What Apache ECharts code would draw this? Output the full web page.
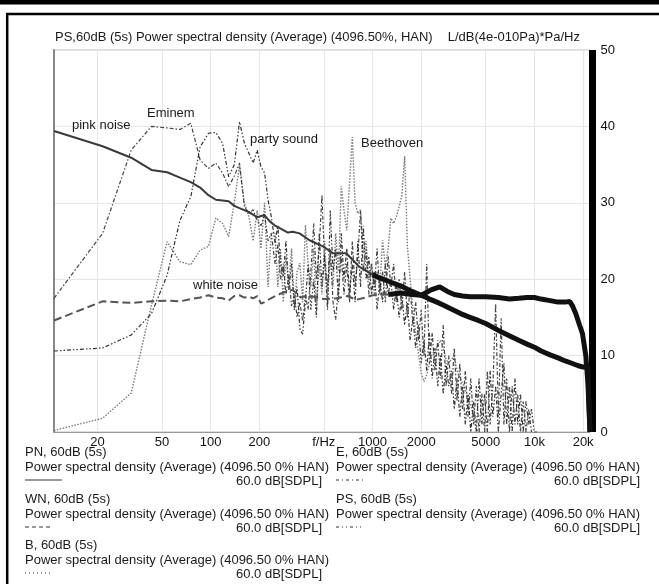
<!DOCTYPE html>
<html><head><meta charset="utf-8">
<script src="https://cdn.jsdelivr.net/npm/echarts@6/dist/echarts.min.js"></script>
<style>html,body{margin:0;padding:0;background:#fff}#c{width:659px;height:584px}</style>
</head><body><div id="c"></div>
<script>
// ---------- axis ticks ----------
const xTickValues = [20, 50, 100, 200, 500, 1000, 2000, 5000, 10000, 20000];
const xTickLabels = ['20', '50', '100', '200', 'f/Hz', '1000', '2000', '5000', '10k', '20k'];
const yTickLabels = ['0', '10', '20', '30', '40', '50'];

// ---------- frequencies ----------
const binFreq = [10.77, 21.5, 32.3, 43.1, 53.8, 64.6, 75.4, 86.1, 96.9, 107.7, 118.4, 129.2, 140, 150.7, 161.5, 172.3, 183, 193.8, 204.6, 215.4, 226.2, 236.9];
const fineFreq = [250, 260, 270, 281, 292, 304, 316, 329, 342, 356, 370, 385, 400, 416, 433, 450, 468, 487, 506, 527, 548, 570, 592, 616, 641, 666, 693, 721, 750, 780, 811, 843, 877, 912, 948, 986, 1026, 1067, 1109, 1154, 1200, 1248, 1298, 1350, 1404, 1460, 1518, 1579, 1642, 1708, 1776, 1847, 1921, 1998, 2078, 2161, 2247, 2337, 2431, 2528, 2629, 2734, 2844, 2957, 3076, 3199, 3327, 3460, 3598, 3742, 3892, 4047, 4209, 4378, 4553, 4735, 4924, 5121, 5326, 5539, 5761, 5991, 6231, 6480, 6739, 7009, 7289, 7581, 7884, 8200, 8528, 8869, 9224, 9593, 9976, 10375];

// ---------- pink noise (PN) ----------
const pinkFreq = [10.77, 21.5, 32.3, 43.1, 53.8, 64.6, 75.4, 86.1, 96.9, 107.7, 118.4, 129.2, 140, 150.7, 172, 194, 215, 231, 250, 267, 300, 322, 354, 408, 494, 570, 688, 831, 1000, 1100, 1300, 1500, 1750, 2000, 2250, 2500, 2750, 3000, 3500, 4000, 4500, 5000, 6000, 7000, 8000, 9000, 10000, 11000, 12500, 14000, 15500, 17000, 18500, 20000, 21400, 22050];
const pinkDb = [39.4, 37.4, 35.9, 34.3, 34.0, 33.3, 32.7, 32.0, 31.0, 30.4, 30.3, 30.2, 29.6, 29.3, 28.8, 28.1, 28.4, 27.6, 27.0, 26.7, 26.1, 26.2, 26.0, 25.1, 24.3, 23.4, 23.4, 21.6, 20.6, 20.2, 19.6, 19.1, 18.4, 17.9, 17.4, 17.0, 16.6, 16.2, 15.5, 15.0, 14.6, 14.2, 13.3, 12.6, 12.0, 11.5, 11.1, 10.6, 10.1, 9.7, 9.3, 9.0, 8.7, 8.5, 8.5, 0];

// ---------- white noise (WN) ----------
const whiteFreq = [10.77, 21.5, 32.3, 43.1, 53.8, 64.6, 75.4, 86.1, 96.9, 107.7, 118.4, 129.2, 140, 150.7, 161.5, 172.3, 183, 194, 205, 215, 240, 270, 293, 322, 360, 400, 449, 500, 597, 700, 793, 900, 1000, 1250, 1500, 1750, 2000, 2300, 2600, 2900, 3200, 3600, 4000, 5000, 6000, 7000, 8000, 9000, 10000, 11000, 12500, 14000, 15500, 16500, 17200, 18000, 19000, 19800, 20800, 21400, 22050];
const whiteDb = [14.6, 17.1, 16.9, 17.1, 17.2, 17.1, 17.4, 17.6, 17.9, 17.6, 17.5, 17.2, 17.8, 17.9, 17.6, 17.7, 17.5, 17.8, 16.8, 17.0, 17.6, 18.1, 18.4, 18.6, 17.6, 17.9, 17.6, 17.4, 17.5, 17.8, 17.3, 17.6, 17.9, 18.0, 18.2, 18.0, 17.9, 18.6, 19.0, 18.4, 18.0, 17.8, 17.7, 17.7, 17.6, 17.4, 17.5, 17.6, 17.6, 17.4, 17.2, 17.0, 17.0, 17.1, 16.5, 15.5, 14.0, 12.9, 9.9, 6.4, 0];

// ---------- Beethoven (B) ----------
const beethovenBinDb = [0.2, 1.8, 5.1, 16.6, 24.9, 22.3, 21.9, 23.8, 24.3, 28.0, 27.3, 25.6, 30.0, 34.9, 30.0, 28.2, 25.0, 29.0, 24, 30, 19, 26];
const beethovenFineDb = [26, 19, 24, 17, 23, 19, 24, 16, 21, 22.1, 17, 27.1, 22, 19, 24, 16, 22, 18, 25, 17, 23, 19, 26, 21, 32.2, 29, 26.4, 32.6, 38.6, 30, 28.6, 29.1, 23.4, 25, 19.9, 22, 18, 21, 19, 25.1, 21.6, 24, 28.0, 27.3, 28.2, 29.5, 31, 36.1, 24.3, 20, 16, 13, 10.3, 7.7, 6.6, 7.5, 9, 10.2, 10.7, 11.2, 12, 11, 9.5, 9.0, 9.5, 9.9, 8, 7, 6.4, 5.5, 4.6, 3.5, 2, 0.3, 0];

// ---------- Eminem (E) ----------
const eminemBinDb = [17.5, 26.0, 36.9, 40.0, 39.8, 39.6, 40.4, 35.6, 34.5, 35.2, 33.9, 32.1, 33.5, 35.2, 29.5, 28.6, 29.1, 27.7, 27, 28.5, 25, 26];
const eminemFineDb = [22, 24.5, 20, 22, 18, 20.5, 16.5, 18, 15, 17, 14.5, 18, 16, 21, 27.3, 20, 24, 31, 22, 19, 24, 17, 14.7, 19, 23, 18, 22, 17, 25, 19, 23, 29, 21, 24, 18, 22, 19, 24, 18, 21, 17, 23, 19, 22, 17, 20, 16, 21, 15, 19, 14, 17, 12, 16, 10, 22, 9, 13, 8, 12, 7, 14, 6, 10, 5, 11, 4, 9, 3, 8, 2, 7, 1, 6, 0, 5, 0, 8, 1, 6, 16.8, 2, 14.9, 1, 7, 0, 6, 1, 5, 0, 4, 0, 3, 0];

// ---------- party sound (PS) ----------
const partyBinDb = [10.6, 11.0, 12.7, 15.5, 20.5, 27.7, 30.8, 37.3, 39.1, 39.2, 37.8, 33.4, 35.0, 40.6, 37.8, 36.5, 35.2, 36.9, 34.7, 33.9, 30.4, 28.2];
const partyFineDb = [24.7, 27, 22, 20.3, 25, 18.6, 22, 16, 19, 13.5, 12.8, 17, 22, 16, 20, 15, 26, 19, 23, 16, 29, 21, 24, 17, 26, 20, 24, 18, 22, 17, 25, 19, 27, 20, 23, 18, 21, 16, 20, 17, 22, 18, 20, 16, 19, 15, 18, 14, 17, 12, 15, 11, 14, 9, 12, 8, 13, 7, 11, 6, 10, 5, 9, 6, 8, 3, 7, 2, 6, 1, 5, 0, 4, 0, 7, 1, 5, 0, 8, 2, 6, 0, 5, 9, 1, 6, 0, 7, 1, 5, 0, 4, 1, 3, 0, 0];

// ---------- texts ----------
const titleText = 'PS,60dB (5s) Power spectral density (Average) (4096.50%, HAN)';
const unitText = 'L/dB(4e-010Pa)*Pa/Hz';
const legendNames = ['PN, 60dB (5s)', 'WN, 60dB (5s)', 'B, 60dB (5s)', 'E, 60dB (5s)', 'PS, 60dB (5s)'];
const legendDesc = 'Power spectral density (Average) (4096.50 0% HAN)';
const legendLevel = '60.0 dB[SDPL]';
const annotations = ['pink noise', 'Eminem', 'party sound', 'Beethoven', 'white noise'];

// ---------- build ----------
function zip(f, d) { return f.map((x, i) => [x, d[i]]); }
function splitAt(pairs, cut, low) { return pairs.filter(p => low ? p[0] <= cut : p[0] >= cut); }
function joinSeries(binDb, fineDb) {
  return zip(binFreq.concat(fineFreq.slice(0, fineDb.length)), binDb.concat(fineDb));
}

const pinkPairs = zip(pinkFreq, pinkDb);
const whitePairs = zip(whiteFreq, whiteDb);
const beetPairs = joinSeries(beethovenBinDb, beethovenFineDb);
const eminemPairs = joinSeries(eminemBinDb, eminemFineDb);
const partyPairs = joinSeries(partyBinDb, partyFineDb);

const FONT = '"Liberation Sans", Arial, sans-serif';
const chart = echarts.init(document.getElementById('c'), null, { renderer: 'canvas' });

function line(name, data, color, width, type, z) {
  return { name, type: 'line', data, showSymbol: false, symbol: 'none', smooth: false, animation: false, z: z || 2,
    lineStyle: { color, width, type: type || 'solid' }, xAxisIndex: 0, yAxisIndex: 0 };
}

const labelMap = {};
xTickValues.forEach((v, i) => labelMap[v] = xTickLabels[i]);

const txt = (text, x, y, opts) => ({ type: 'text', silent: true, z: 100, style: Object.assign({ text, x, y, fill: '#1a1a1a', font: '13px ' + FONT, textVerticalAlign: 'middle', verticalAlign: 'middle' }, opts || {}) });
const seg = (x1, y1, x2, y2, dash, w, c) => ({ type: 'line', silent: true, z: 100, shape: { x1, y1, x2, y2 }, style: { stroke: c || '#333', lineWidth: w || 1, lineDash: dash || null } });

const rows = [452, 467, 481, 499, 514, 528, 545, 560, 574];
const R = { textAlign: 'right', align: 'right' };
const graphics = [
  { type: 'rect', silent: true, z: 100, shape: { x: 0, y: 0, width: 659, height: 4.5 }, style: { fill: '#000' } },
  seg(6, 14, 659, 14, null, 2.5, '#000'),
  seg(7.2, 13, 7.2, 584, null, 2.5, '#000'),
  txt(titleText, 55, 37),
  txt(unitText, 580, 37, R),
  txt(annotations[0], 72, 125),
  txt(annotations[1], 147, 113),
  txt(annotations[2], 250, 139),
  txt(annotations[3], 361, 143),
  txt(annotations[4], 193, 285),
  // left column legend
  txt(legendNames[0], 25, rows[0]), txt(legendDesc, 25, rows[1]), seg(25, rows[2] - 1, 62, rows[2] - 1, null, 1, '#333'), txt(legendLevel, 322, rows[2], R),
  txt(legendNames[1], 25, rows[3]), txt(legendDesc, 25, rows[4]), seg(25, rows[5] - 1, 52, rows[5] - 1, [4, 3], 1, '#333'), txt(legendLevel, 322, rows[5], R),
  txt(legendNames[2], 25, rows[6]), txt(legendDesc, 25, rows[7]), seg(25, rows[8] - 1, 50, rows[8] - 1, [1, 3], 1, '#333'), txt(legendLevel, 322, rows[8], R),
  // right column legend
  txt(legendNames[3], 336, rows[0]), txt(legendDesc, 336, rows[1]), seg(336, rows[2] - 1, 364, rows[2] - 1, [3, 3, 1, 3], 1, '#333'), txt(legendLevel, 640, rows[2], R),
  txt(legendNames[4], 336, rows[3]), txt(legendDesc, 336, rows[4]), seg(336, rows[5] - 1, 364, rows[5] - 1, [3, 3, 1, 3, 1, 3], 1, '#333'), txt(legendLevel, 640, rows[5], R)
];

const option = {
  animation: false,
  backgroundColor: '#fff',
  grid: { left: 54, right: 69, top: 50, bottom: 152, show: true, borderColor: '#bbb', borderWidth: 1, containLabel: false },
  xAxis: {
    type: 'log', logBase: 10, min: 10.77, max: 22050,
    axisLine: { show: true, lineStyle: { color: '#999', width: 1 } },
    axisTick: { show: false, customValues: xTickValues },
    axisLabel: { customValues: xTickValues, formatter: v => labelMap[Math.round(v)] || '', color: '#111', fontSize: 13, fontFamily: FONT, margin: 4 },
    splitLine: { show: true, lineStyle: { color: '#e6e6e6', width: 1 } },
    minorSplitLine: { show: false }
  },
  yAxis: [{
    type: 'value', position: 'right', min: 0, max: 50, interval: 10, offset: 2.5,
    axisLine: { show: true, lineStyle: { color: '#000', width: 7, cap: 'butt' } },
    axisTick: { show: false },
    axisLabel: { color: '#111', fontSize: 13, fontFamily: FONT, margin: 8, formatter: v => yTickLabels[Math.round(v / 10)] },
    splitLine: { show: true, lineStyle: { color: '#e6e6e6', width: 1 } }
  }, {
    type: 'value', position: 'left', min: 0, max: 50, interval: 10,
    axisLine: { show: true, lineStyle: { color: '#888', width: 2 } },
    axisTick: { show: false }, axisLabel: { show: false }, splitLine: { show: false }
  }],
  series: [
    line('B', beetPairs, '#7a7a7a', 1.4, [1.5, 1.5], 2),
    line('E', eminemPairs, '#444', 1.2, [4, 2, 1.5, 2], 3),
    line('PS', partyPairs, '#333', 1.2, [4, 2, 1.5, 2, 1.5, 2], 4),
    line('WN', splitAt(whitePairs, 1250, true), '#555', 2, [8, 4], 5),
    line('WN band', splitAt(whitePairs, 1250, false), '#111', 5, 'solid', 5),
    line('PN', splitAt(pinkPairs, 1000, true), '#3a3a3a', 2, 'solid', 6),
    line('PN band', splitAt(pinkPairs, 1000, false), '#111', 5, 'solid', 6)
  ],
  graphic: graphics
};
chart.setOption(option);
</script>
</body></html>
